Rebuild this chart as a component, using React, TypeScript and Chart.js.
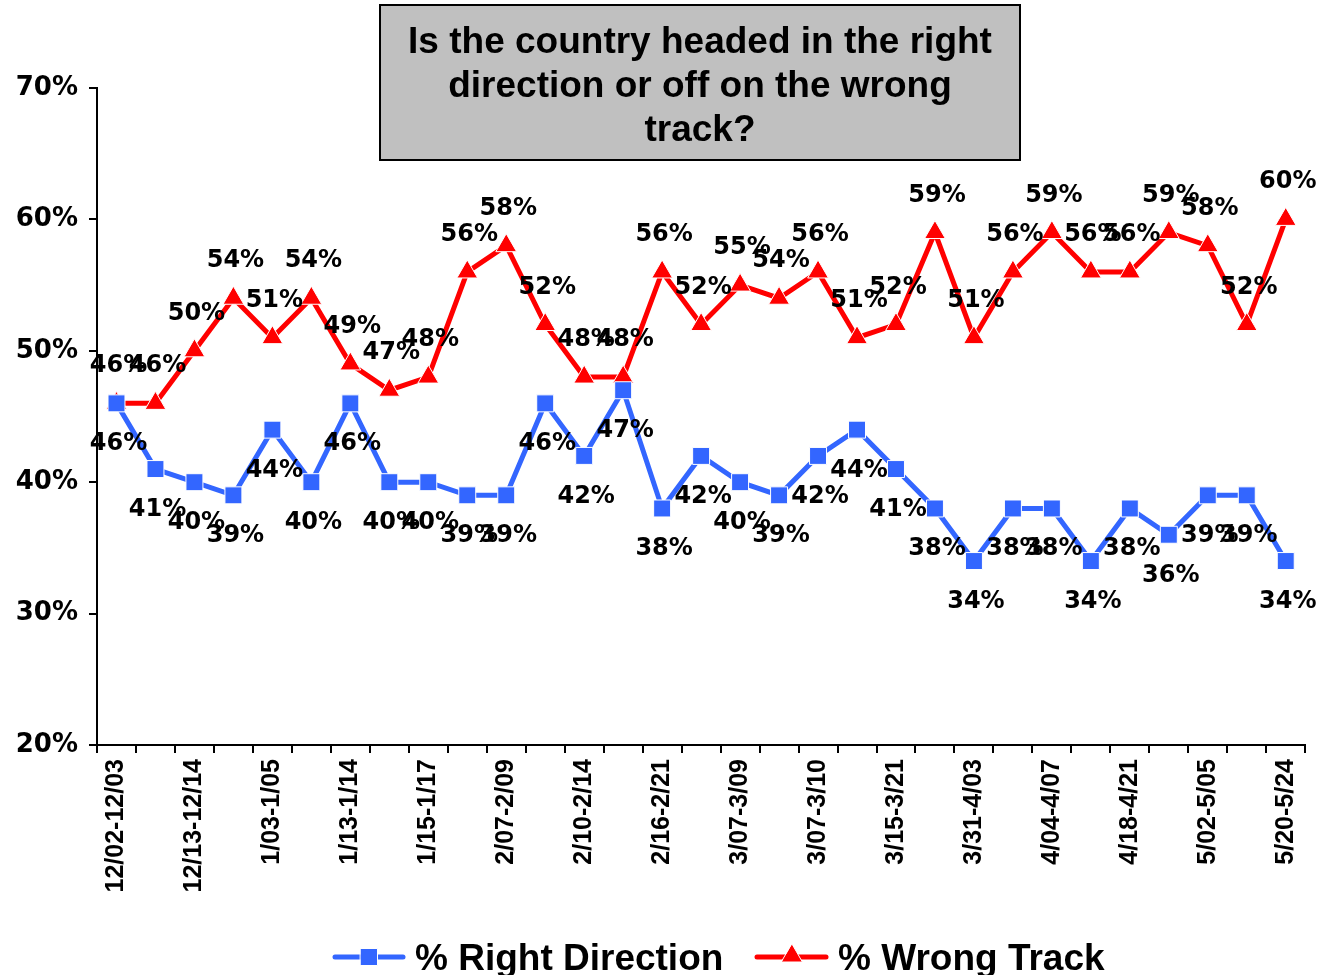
import React, { useEffect, useRef } from 'react';
import { Chart, registerables } from 'chart.js';

Chart.register(...registerables);

const titleLines = ['Is the country headed in the right', 'direction or off on the wrong', 'track?'];
const tickLabels = ['12/02-12/03', '12/13-12/14', '1/03-1/05', '1/13-1/14', '1/15-1/17', '2/07-2/09', '2/10-2/14', '2/16-2/21', '3/07-3/09', '3/07-3/10', '3/15-3/21', '3/31-4/03', '4/04-4/07', '4/18-4/21', '5/02-5/05', '5/20-5/24'];
const rightDirection = [46, 41, 40, 39, 44, 40, 46, 40, 40, 39, 39, 46, 42, 47, 38, 42, 40, 39, 42, 44, 41, 38, 34, 38, 38, 34, 38, 36, 39, 39, 34];
const wrongTrack = [46, 46, 50, 54, 51, 54, 49, 47, 48, 56, 58, 52, 48, 48, 56, 52, 55, 54, 56, 51, 52, 59, 51, 56, 59, 56, 56, 59, 58, 52, 60];
const seriesNames = ['% Right Direction', '% Wrong Track'];

const categories = rightDirection.map((_, i) => (i % 2 === 0 ? tickLabels[i / 2] : ''));

const BLUE = '#3366FF';
const RED = '#FF0000';

function drawSquare(ctx: CanvasRenderingContext2D, x: number, y: number, s: number, color: string) {
  ctx.fillStyle = color;
  ctx.strokeStyle = '#FFFFFF';
  ctx.lineWidth = 1;
  ctx.beginPath();
  ctx.rect(x - s / 2, y - s / 2, s, s);
  ctx.fill();
  ctx.stroke();
}

function drawTriangle(ctx: CanvasRenderingContext2D, x: number, y: number, r: number, color: string) {
  ctx.fillStyle = color;
  ctx.strokeStyle = '#FFFFFF';
  ctx.lineWidth = 1;
  ctx.beginPath();
  ctx.moveTo(x, y - r);
  ctx.lineTo(x + r * 0.866, y + r / 2);
  ctx.lineTo(x - r * 0.866, y + r / 2);
  ctx.closePath();
  ctx.fill();
  ctx.stroke();
}

const overlayPlugin = {
  id: 'overlay',
  afterDatasetsDraw(chart: any) {
    const ctx: CanvasRenderingContext2D = chart.ctx;
    ctx.save();
    ctx.fillStyle = '#000000';
    ctx.font = 'bold 24px "DejaVu Sans"';
    ctx.textAlign = 'center';
    ctx.textBaseline = 'alphabetic';
    chart.data.datasets.forEach((ds: any, di: number) => {
      const meta = chart.getDatasetMeta(di);
      meta.data.forEach((pt: any, i: number) => {
        const txt = ds.data[i] + '%';
        const dy = di === 0 ? 38 : -40;
        ctx.fillText(txt, pt.x + 2, pt.y + dy + 9);
      });
    });
    ctx.restore();
  },
  afterDraw(chart: any) {
    const ctx: CanvasRenderingContext2D = chart.ctx;
    ctx.save();
    // Title box
    ctx.fillStyle = '#C0C0C0';
    ctx.fillRect(380, 5, 640, 155);
    ctx.strokeStyle = '#000000';
    ctx.lineWidth = 2;
    ctx.strokeRect(380, 5, 640, 155);
    ctx.fillStyle = '#000000';
    ctx.font = 'bold 37px "Liberation Sans", Arial, sans-serif';
    ctx.textAlign = 'center';
    ctx.textBaseline = 'alphabetic';
    titleLines.forEach((line, i) => {
      ctx.fillText(line, 700, 53 + i * 44);
    });

    // Legend
    const ly = 957;
    ctx.lineCap = 'round';
    ctx.lineWidth = 5;
    ctx.strokeStyle = BLUE;
    ctx.beginPath();
    ctx.moveTo(335, ly);
    ctx.lineTo(403, ly);
    ctx.stroke();
    drawSquare(ctx, 369, ly, 17, BLUE);
    ctx.strokeStyle = RED;
    ctx.lineWidth = 5;
    ctx.beginPath();
    ctx.moveTo(757, ly);
    ctx.lineTo(826, ly);
    ctx.stroke();
    drawTriangle(ctx, 792, ly - 1, 12, RED);

    ctx.fillStyle = '#000000';
    ctx.font = 'bold 37px "Liberation Sans", Arial, sans-serif';
    ctx.textAlign = 'left';
    ctx.fillText(seriesNames[0], 415, 970);
    ctx.fillText(seriesNames[1], 838, 970);
    ctx.restore();
  },
};

export default function App() {
  const canvasRef = useRef<HTMLCanvasElement | null>(null);

  useEffect(() => {
    const canvas = canvasRef.current;
    if (!canvas) return;
    const chart = new Chart(canvas, {
      type: 'line',
      data: {
        labels: categories,
        datasets: [
          {
            label: seriesNames[0],
            data: rightDirection,
            borderColor: BLUE,
            backgroundColor: BLUE,
            borderWidth: 5,
            pointStyle: 'rect',
            pointRadius: 12,
            pointBorderColor: '#FFFFFF',
            pointBorderWidth: 1,
            pointBackgroundColor: BLUE,
            tension: 0,
          },
          {
            label: seriesNames[1],
            data: wrongTrack,
            borderColor: RED,
            backgroundColor: RED,
            borderWidth: 5,
            pointStyle: 'triangle',
            pointRadius: 12,
            pointBorderColor: '#FFFFFF',
            pointBorderWidth: 1,
            pointBackgroundColor: RED,
            tension: 0,
          },
        ],
      },
      options: {
        animation: false,
        responsive: false,
        devicePixelRatio: 1,
        layout: { padding: { top: 88, right: 16, left: 0, bottom: 0 } },
        plugins: {
          legend: { display: false },
          tooltip: { enabled: false },
          title: { display: false },
        },
        scales: {
          x: {
            type: 'category',
            offset: true,
            grid: {
              display: true,
              offset: true,
              drawOnChartArea: false,
              drawTicks: true,
              tickLength: 8,
              color: '#000000',
              lineWidth: 2,
            },
            border: { display: true, color: '#000000', width: 2 },
            ticks: {
              autoSkip: false,
              minRotation: 90,
              maxRotation: 90,
              padding: 6,
              color: '#000000',
              font: { family: '"Liberation Sans", Arial, sans-serif', weight: 'bold', size: 25 },
            },
            afterFit: (scale: any) => {
              scale.height = 230;
            },
          },
          y: {
            min: 20,
            max: 70,
            grid: {
              display: true,
              drawOnChartArea: false,
              drawTicks: true,
              tickLength: 8,
              color: '#000000',
              lineWidth: 2,
            },
            border: { display: true, color: '#000000', width: 2 },
            ticks: {
              stepSize: 10,
              padding: 11,
              color: '#000000',
              font: { family: '"DejaVu Sans"', weight: 'bold', size: 26 },
              callback: (v: any) => v + '%',
            },
            afterFit: (scale: any) => {
              scale.width = 97;
            },
          },
        },
      },
      plugins: [overlayPlugin],
    });
    return () => chart.destroy();
  }, []);

  return (
    <div style={{ position: 'fixed', left: 0, top: 0, width: 1322, height: 975, background: '#FFFFFF' }}>
      <canvas ref={canvasRef} width={1322} height={975} style={{ width: 1322, height: 975, display: 'block' }} />
    </div>
  );
}
